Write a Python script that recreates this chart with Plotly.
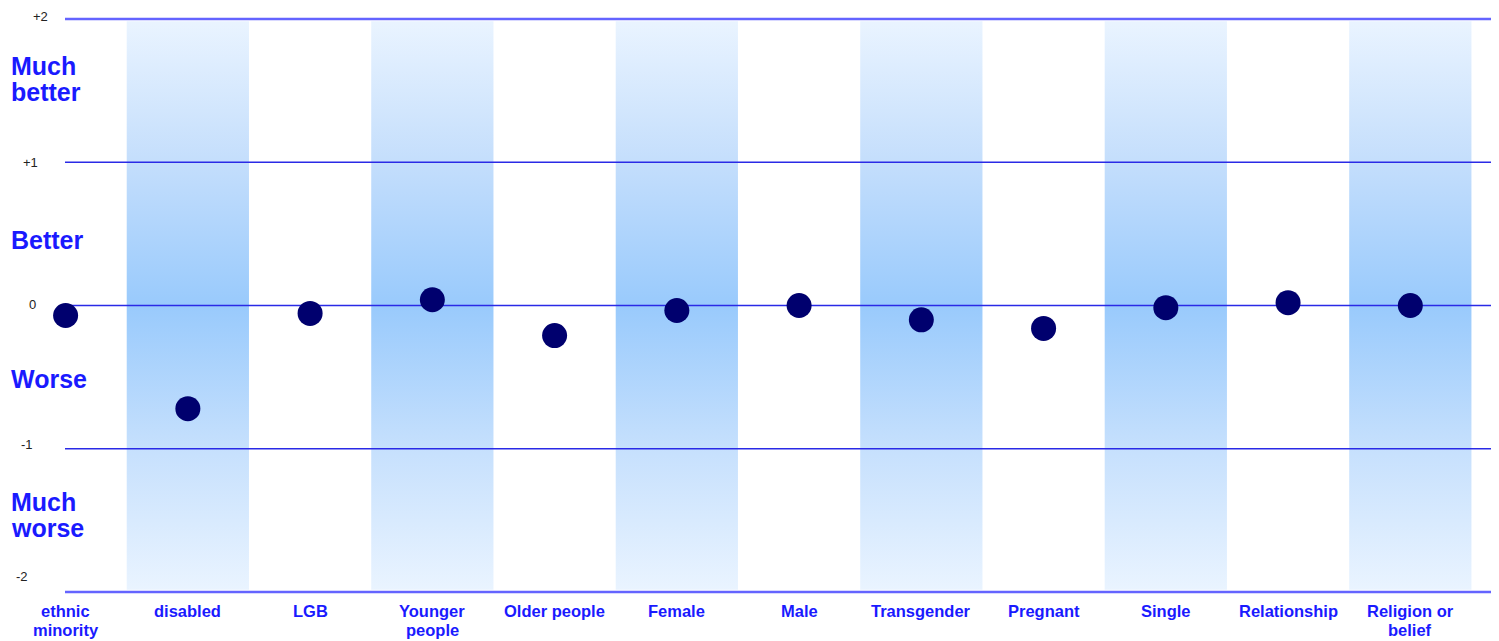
import plotly.graph_objects as go

# Groups compared, in display order
categories = ["ethnic<br>minority", "disabled", "LGB", "Younger<br>people", "Older people",
              "Female", "Male", "Transgender", "Pregnant", "Single", "Relationship",
              "Religion or<br>belief"]
# Average rating relative to the overall population (-2 .. +2)
scores = [-0.07, -0.72, -0.055, 0.04, -0.21, -0.035, 0.0, -0.10, -0.16, -0.015, 0.02, 0.0]

# Reference scale
scale_values = [2, 1, 0, -1, -2]
scale_labels = ["+2", "+1", "0", "-1", "-2"]
band_labels = [["Much", "better"], ["Better"], ["Worse"], ["Much", "worse"]]
band_centres = [1.58, 0.46, -0.51, -1.46]

BLUE_TEXT = "#1a1aff"
FONT = "Arial, Liberation Sans"
X_RANGE = [-0.005, 11.66]
Y_RANGE = [-2.014, 2.014]
x_idx = list(range(len(categories)))

fig = go.Figure()

# Shaded vertical bands behind every second category
band_scale = [[0.0, "#eaf4ff"], [0.25, "#c6e0fd"], [0.5, "#99cafc"],
              [0.75, "#c4defc"], [1.0, "#eaf4ff"]]
for i in x_idx:
    if i % 2 == 1:
        fig.add_trace(go.Scatter(
            x=[i - 0.5, i + 0.5, i + 0.5, i - 0.5, i - 0.5],
            y=[-1.985, -1.985, 1.985, 1.985, -1.985],
            mode="lines", line=dict(width=0), fill="toself",
            fillgradient=dict(type="vertical", colorscale=band_scale,
                              start=-2, stop=2),
            hoverinfo="skip", showlegend=False,
        ))

# Horizontal reference lines, drawn over the bands
for v in scale_values:
    edge = abs(v) == 2
    fig.add_trace(go.Scatter(
        x=X_RANGE, y=[v, v], mode="lines",
        line=dict(color="#6464ff" if edge else "#2a2ae6", width=2.5 if edge else 1.4),
        cliponaxis=False, hoverinfo="skip", showlegend=False,
    ))

# Score markers
fig.add_trace(go.Scatter(
    x=x_idx, y=scores, mode="markers",
    marker=dict(size=25, color="#00006e", line=dict(width=0)),
    cliponaxis=False, showlegend=False,
))

# Scale numbers on the left
label_xshift = [-15, -25, -27, -30, -35]
label_yshift = [3, 0, 1, 4, 15]
for v, t, dx, dy in zip(scale_values, scale_labels, label_xshift, label_yshift):
    fig.add_annotation(xref="paper", x=0, yref="y", y=v, text=t, showarrow=False,
                       xanchor="right", xshift=dx, yshift=dy,
                       font=dict(family=FONT, size=13, color="#222"))

# Verbal descriptions of each band
for c, lines in zip(band_centres, band_labels):
    n = len(lines)
    for k, t in enumerate(lines):
        fig.add_annotation(xref="paper", x=0, yref="y", y=c, text="<b>" + t + "</b>",
                           showarrow=False, xanchor="left", xshift=-56,
                           yshift=((n - 1) / 2 - k) * 26,
                           font=dict(family=FONT, size=25, color=BLUE_TEXT))

# Category names under the plot, one annotation per text line
for i, name in zip(x_idx, categories):
    for k, t in enumerate(name.split("<br>")):
        fig.add_annotation(xref="x", x=i, yref="paper", y=0, text="<b>" + t + "</b>",
                           showarrow=False, xanchor="center", yanchor="middle",
                           yshift=-17 - 19 * k,
                           font=dict(family=FONT, size=16.5, color=BLUE_TEXT))

fig.update_layout(
    width=1499, height=641,
    margin=dict(l=65, r=8, t=17, b=47, autoexpand=False),
    plot_bgcolor="white", paper_bgcolor="white",
    xaxis=dict(range=X_RANGE, showticklabels=False, showgrid=False,
               zeroline=False, showline=False, ticks="", automargin=False),
    yaxis=dict(range=Y_RANGE, showticklabels=False, showgrid=False,
               zeroline=False, showline=False, ticks="", automargin=False),
)

fig.write_html("out.html")
